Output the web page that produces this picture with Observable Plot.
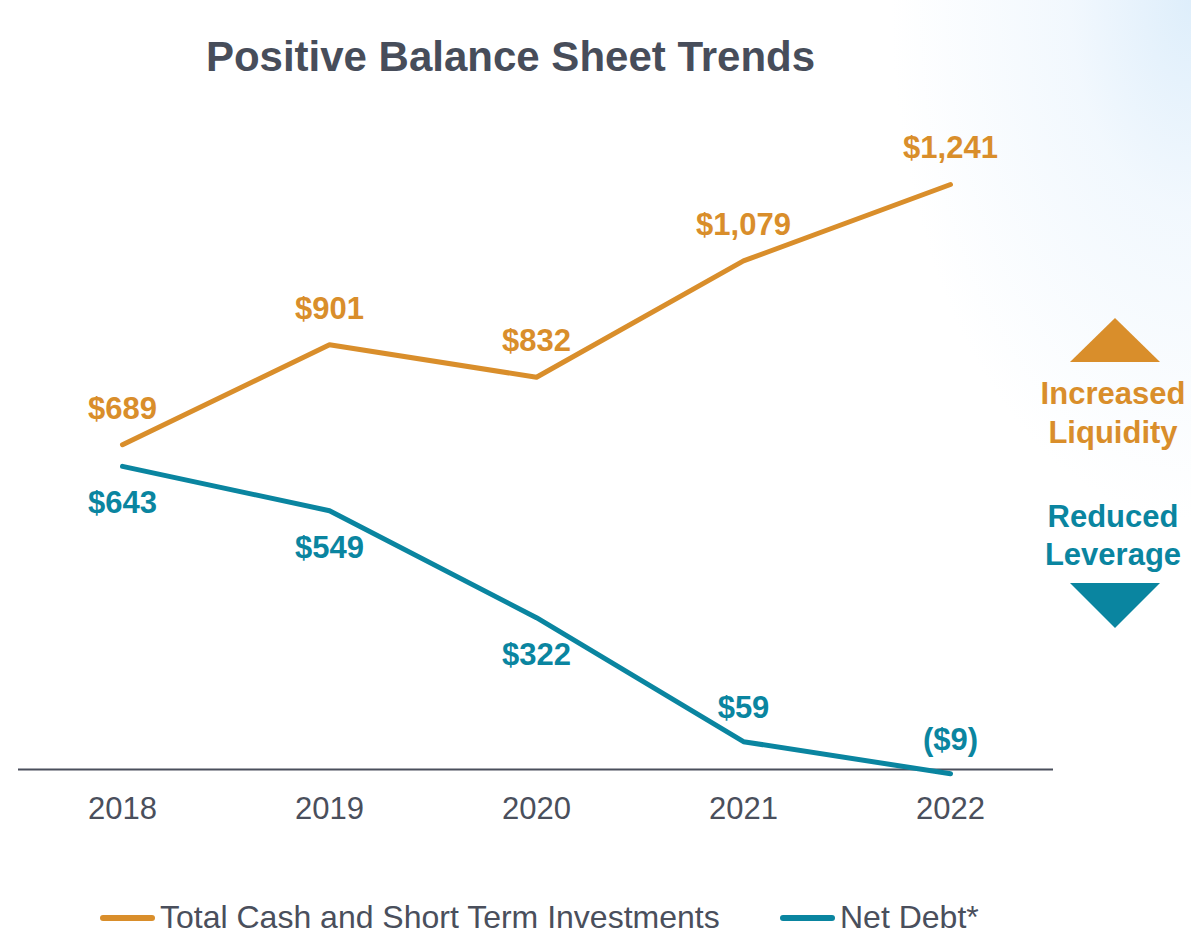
<!DOCTYPE html>
<html><head><meta charset="utf-8">
<script src="https://cdn.jsdelivr.net/npm/d3@7"></script>
<script src="https://cdn.jsdelivr.net/npm/@observablehq/plot@0.6"></script>
<style>
body{margin:0;background:#fff;}
#page{position:relative;width:1191px;height:934px;overflow:hidden;font-family:"Liberation Sans",Arial,sans-serif;
background:radial-gradient(ellipse 300px 520px at 100% 0%, rgba(222,238,251,1) 0%, rgba(236,245,253,0.7) 40%, rgba(255,255,255,0) 100%), #fff;}
#title{position:absolute;left:0;top:33px;width:1021px;text-align:center;font-weight:bold;font-size:42px;line-height:48px;color:#474d5a;}
#chart{position:absolute;left:0;top:100px;}
.ann{position:absolute;left:1021px;width:184px;text-align:center;font-weight:bold;font-size:31px;line-height:39px;}
.tri-up{position:absolute;left:1070px;top:318px;width:0;height:0;border-left:45px solid transparent;border-right:45px solid transparent;border-bottom:44px solid #d98e2b;}
.tri-down{position:absolute;left:1070px;top:583px;width:0;height:0;border-left:45px solid transparent;border-right:45px solid transparent;border-top:45px solid #0a85a0;}
.leg-sw{position:absolute;top:915px;width:55px;height:6px;border-radius:3px;}
.leg-tx{position:absolute;top:901px;font-size:32px;line-height:33px;color:#4a4f5c;white-space:nowrap;}
</style></head>
<body><div id="page">
<div id="title">Positive Balance Sheet Trends</div>
<div id="chart"></div>
<div class="tri-up"></div>
<div class="ann" style="top:374px;color:#d98e2b;">Increased<br>Liquidity</div>
<div class="ann" style="top:498px;color:#0a85a0;line-height:38px;">Reduced<br>Leverage</div>
<div class="tri-down"></div>
<div class="leg-sw" style="left:100px;background:#d98e2b;"></div>
<div class="leg-tx" style="left:160px;" id="leg1"></div>
<div class="leg-sw" style="left:780px;background:#0a85a0;"></div>
<div class="leg-tx" style="left:840px;" id="leg2"></div>
</div>
<script>
const years = ["2018", "2019", "2020", "2021", "2022"];
const cashValues = [689, 901, 832, 1079, 1241];
const netDebtValues = [643, 549, 322, 59, -9];
const seriesNames = ["Total Cash and Short Term Investments", "Net Debt*"];
const seriesColors = ["#d98e2b", "#0a85a0"];

document.getElementById("leg1").textContent = seriesNames[0];
document.getElementById("leg2").textContent = seriesNames[1];

const fmt = v => v < 0 ? `($${d3.format(",")(-v)})` : `$${d3.format(",")(v)}`;
const cashRows = years.map((y, i) => ({year: y, value: cashValues[i], i}));
const debtRows = years.map((y, i) => ({year: y, value: netDebtValues[i], i}));

const chart = Plot.plot({
  width: 1191,
  height: 760,
  marginLeft: 18,
  marginRight: 138,
  marginTop: 84,
  marginBottom: 91,
  style: {fontFamily: "'Liberation Sans', Arial, sans-serif", color: "#4a4f5c", background: "transparent", overflow: "visible"},
  x: {type: "point", domain: years, padding: 0.5, label: null},
  y: {domain: [0, 1241], axis: null},
  marks: [
    Plot.axisX({tickSize: 0, tickPadding: 27, fontSize: 31, label: null, fill: "#4a4f5c"}),
    Plot.ruleY([0], {stroke: "#4a4f5c", strokeWidth: 2}),
    Plot.line(cashRows, {x: "year", y: "value", stroke: seriesColors[0], strokeWidth: 5, strokeLinecap: "round", strokeLinejoin: "round"}),
    Plot.line(debtRows, {x: "year", y: "value", stroke: seriesColors[1], strokeWidth: 5, strokeLinecap: "round", strokeLinejoin: "round"}),
    Plot.text(cashRows, {x: "year", y: "value", text: d => fmt(d.value), dy: -36, fill: seriesColors[0], fontSize: 31, fontWeight: "bold"}),
    Plot.text(debtRows.filter(d => d.i < 3), {x: "year", y: "value", text: d => fmt(d.value), dy: 37, fill: seriesColors[1], fontSize: 31, fontWeight: "bold"}),
    Plot.text(debtRows.filter(d => d.i >= 3), {x: "year", y: "value", text: d => fmt(d.value), dy: -34, fill: seriesColors[1], fontSize: 31, fontWeight: "bold"})
  ]
});
document.getElementById("chart").appendChild(chart);
</script>
</body></html>
